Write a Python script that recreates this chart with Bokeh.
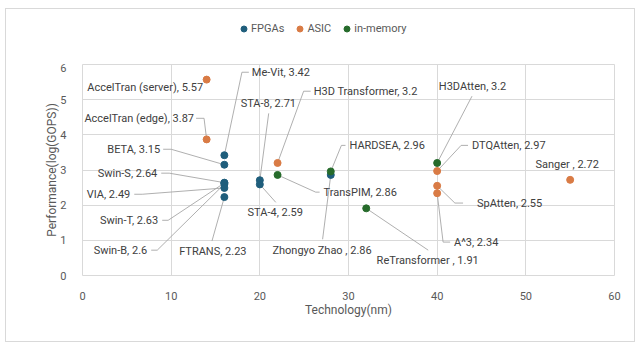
from bokeh.plotting import figure
from bokeh.layouts import column
from bokeh.models import Legend, LegendItem, ColumnDataSource, Range1d, FixedTicker
from bokeh.embed import file_html
from bokeh.resources import INLINE
from bokeh.core.properties import value

# ---- data ----
fpga_names = ["Me-Vit", "BETA", "Swin-S", "Swin-T", "Swin-B", "VIA", "FTRANS", "STA-8", "STA-4", "Zhongyo Zhao "]
fpga_tech = [16, 16, 16, 16, 16, 16, 16, 20, 20, 28]
fpga_perf = [3.42, 3.15, 2.64, 2.63, 2.6, 2.49, 2.23, 2.71, 2.59, 2.86]

asic_names = ["AccelTran (server)", "AccelTran (edge)", "H3D Transformer", "DTQAtten", "SpAtten", "A^3", "Sanger "]
asic_tech = [14, 14, 22, 40, 40, 40, 55]
asic_perf = [5.57, 3.87, 3.2, 2.97, 2.55, 2.34, 2.72]

mem_names = ["TransPIM", "HARDSEA", "H3DAtten", "ReTransformer "]
mem_tech = [22, 28, 40, 32]
mem_perf = [2.86, 2.96, 3.2, 1.91]

x_ticks = [0, 10, 20, 30, 40, 50, 60]
y_ticks = [0, 1, 2, 3, 4, 5, 6]

# ---- label placement (data units): anchor x, anchor y, align, leader elbow, leader end ----
fpga_lab = [
    (19.1, 5.78, "left", (17.98, 5.78), (18.76, 5.78)),
    (8.76, 3.59, "right", (10.0, 3.59), (9.1, 3.59)),
    (8.43, 2.91, "right", (9.78, 2.91), (8.88, 2.91)),
    (8.54, 1.57, "right", (9.66, 1.57), (8.99, 1.57)),
    (7.3, 0.72, "right", (8.43, 0.72), (7.75, 0.72)),
    (5.39, 2.31, "right", (6.74, 2.31), (5.84, 2.31)),
    (14.7, 0.69, "center", (14.6, 0.98), (14.6, 0.98)),
    (20.96, 4.9, "center", (21.0, 4.61), (21.0, 4.61)),
    (21.74, 1.8, "center", (21.8, 2.08), (21.8, 2.08)),
    (27.02, 0.72, "center", (27.08, 1.03), (27.08, 1.03)),
]
asic_lab = [
    (13.6, 5.35, "right", None, None),
    (12.58, 4.47, "right", (13.71, 4.47), (12.81, 4.47)),
    (26.07, 5.24, "left", (24.94, 5.24), (25.73, 5.24)),
    (43.93, 3.7, "left", (42.7, 3.7), (43.48, 3.7)),
    (44.49, 2.06, "left", (42.0, 2.06), (42.92, 2.06)),
    (41.9, 0.95, "left", (40.67, 0.95), (41.46, 0.95)),
    (54.66, 3.16, "center", None, None),
]
mem_lab = [
    (27.19, 2.37, "left", (26.3, 2.37), (26.74, 2.37)),
    (30.11, 3.7, "left", (29.2, 3.7), (29.66, 3.7)),
    (43.99, 5.38, "center", (43.93, 5.1), (43.93, 5.1)),
    (38.93, 0.43, "center", (38.99, 0.72), (38.99, 0.72)),
]

C_FPGA = "#1f5e7c"
C_ASIC = "#d97b45"
C_MEM = "#266b2b"
TXT = "#404040"
AX = "#595959"
GRID = "#d9d9d9"
FONT = "Roboto"

series = [
    ("FPGAs", fpga_names, fpga_tech, fpga_perf, fpga_lab, C_FPGA),
    ("ASIC", asic_names, asic_tech, asic_perf, asic_lab, C_ASIC),
    ("in-memory", mem_names, mem_tech, mem_perf, mem_lab, C_MEM),
]

# ---- legend strip (top); its glyphs carry the series' first point, which lies outside this strip's range ----
top = figure(width=628, height=54, x_range=Range1d(0, 1), y_range=Range1d(0, 1),
             output_backend="svg", toolbar_location=None, x_axis_type=None, y_axis_type=None,
             min_border=0)
top.outline_line_color = None
top.xgrid.visible = False
top.ygrid.visible = False
top.background_fill_color = "white"
top.border_fill_color = "white"
items = []
for name, _n, xs, ys, _l, col in series:
    r = top.scatter(x=xs[:1], y=ys[:1], size=7, marker="circle", fill_color=col, line_color=col)
    items.append(LegendItem(label=name, renderers=[r]))
legend = Legend(items=items, location=(154, 27), orientation="horizontal",
                border_line_color=None, background_fill_alpha=0,
                label_text_font=FONT, label_text_font_size="11px", label_text_color=AX,
                glyph_width=15, glyph_height=15, label_standoff=-2, spacing=8,
                padding=0, margin=0, label_height=15)
top.add_layout(legend, "center")

# ---- main chart ----
p = figure(width=628, height=278, x_range=Range1d(0, 60), y_range=Range1d(0, 6),
           output_backend="svg", toolbar_location=None,
           min_border_left=76, min_border_right=20, min_border_top=1, min_border_bottom=66)
p.background_fill_color = "white"
p.border_fill_color = "white"
p.outline_line_color = GRID

p.xaxis.ticker = FixedTicker(ticks=x_ticks)
p.yaxis.ticker = FixedTicker(ticks=y_ticks)
for ax in (p.xaxis[0], p.yaxis[0]):
    ax.axis_line_color = None
    ax.major_tick_line_color = None
    ax.minor_tick_line_color = None
    ax.major_label_text_color = AX
    ax.major_label_text_font = FONT
    ax.major_label_text_font_size = "11px"
    ax.axis_label_text_color = AX
    ax.axis_label_text_font = FONT
    ax.axis_label_text_font_size = "12px"
    ax.axis_label_text_font_style = "normal"
    ax.major_label_standoff = 10
p.xaxis.axis_label = "Technology(nm)"
p.yaxis.axis_label = "Performance(log(GOPS))"
p.xaxis.axis_label_standoff = 0
p.yaxis.axis_label_standoff = -2
p.xgrid.grid_line_color = GRID
p.ygrid.grid_line_color = GRID

# leader lines
lxs, lys = [], []
for _, names, xs, ys, labs, _c in series:
    for xv, yv, lab in zip(xs, ys, labs):
        if lab[3] is None:
            continue
        lxs.append([xv, lab[3][0], lab[4][0]])
        lys.append([yv, lab[3][1], lab[4][1]])
p.multi_line(xs=lxs, ys=lys, line_color="#a6a6a6", line_width=0.9)

for name, names, xs, ys, labs, col in series:
    p.scatter(x=xs, y=ys, size=7, marker="circle", fill_color=col, line_color=col)

# labels
for align in ("left", "right", "center"):
    tx, ty, tt = [], [], []
    for _, names, xs, ys, labs, _c in series:
        for nm, yv, lab in zip(names, ys, labs):
            if lab[2] == align:
                tx.append(lab[0]); ty.append(lab[1]); tt.append(f"{nm}, {yv}")
    src = ColumnDataSource(dict(x=tx, y=ty, t=tt))
    p.text(x="x", y="y", text="t", source=src, text_align=align, text_baseline="middle",
           text_font=value(FONT), text_font_size="11px", text_color=TXT)

layout = column(top, p, spacing=0)
layout.margin = (8, 0, 0, 5)
layout.styles = {"border": "1px solid #d9d9d9", "background-color": "white"}

open("out.html", "w").write(file_html(layout, INLINE))
